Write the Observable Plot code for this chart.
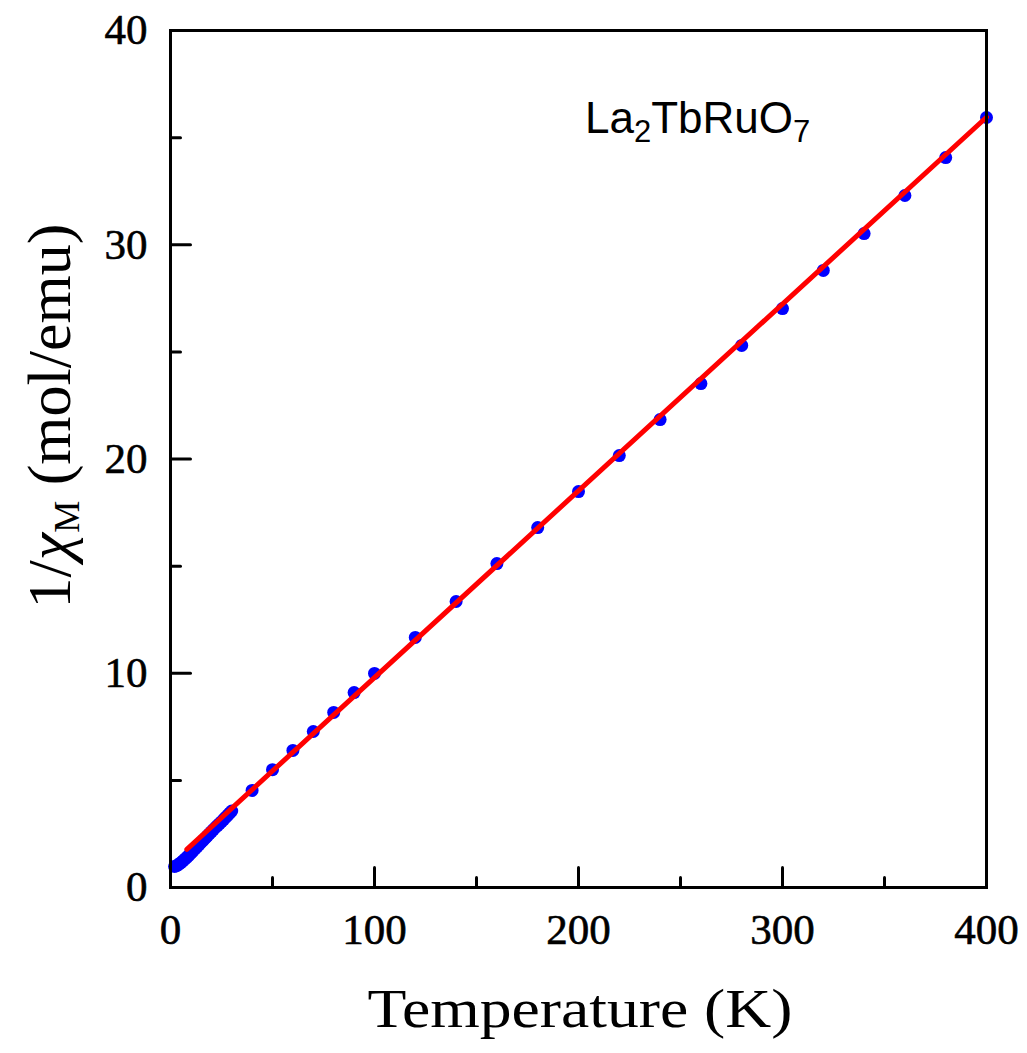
<!DOCTYPE html>
<html><head><meta charset="utf-8">
<script src="https://cdn.jsdelivr.net/npm/d3@7"></script>
<script src="https://cdn.jsdelivr.net/npm/@observablehq/plot@0.6"></script>
<style>body{margin:0;background:#fff}</style>
</head><body><div id="chart"></div>
<script>
// Measured data: temperature (K) and inverse molar susceptibility (mol/emu)
const temperature = [2,3,4,5,6,7,8,9,10,11,12,13,14,15,16,17,18,19,20,21,22,23,24,25,26,27,28,29,30,
  40,50,60,70,80,90,100,120,140,160,180,200,220,240,260,280,300,320,340,360,380,400];
const invChi = [0.98,1.02,1.08,1.15,1.23,1.32,1.41,1.50,1.60,1.70,1.80,1.90,2.00,2.10,2.20,2.30,2.40,2.50,2.60,2.70,2.80,2.89,2.98,3.07,3.17,3.27,3.37,3.47,3.57,
  4.53,5.50,6.40,7.28,8.17,9.10,9.99,11.67,13.35,15.12,16.80,18.48,20.16,21.84,23.52,25.30,27.02,28.80,30.52,32.30,34.07,35.94];
// Curie-Weiss fit line end points
const fitT = [8, 400];
const fitInvChi = [1.78, 35.95];
// Ticks
const xMajor = [0,100,200,300,400];
const xMinor = [50,150,250,350];
const yMajor = [0,10,20,30,40];
const yMinor = [5,15,25,35];

const points = temperature.map((t,i)=>({t, v: invChi[i]}));
const fit = fitT.map((t,i)=>({t, v: fitInvChi[i]}));

// straight tick shape for vector marks (inward ticks)
const tickShape = {draw(context, l) { context.moveTo(0, 0); context.lineTo(0, -l); }};

const plot = Plot.plot({
  width: 1027, height: 1053,
  marginLeft: 170, marginRight: 41, marginTop: 30, marginBottom: 166,
  x: {domain: [0,400], label: null},
  y: {domain: [0,40], label: null},
  style: {fontFamily: "Liberation Serif", fontSize: "43px", color: "#000", background: "#fff", overflow: "visible"},
  marks: [
    Plot.dot(points, {x: "t", y: "v", r: 6.5, fill: "#0000ff", stroke: "none"}),
    Plot.line(fit, {x: "t", y: "v", stroke: "#ff0000", strokeWidth: 5}),
    Plot.axisX({ticks: xMajor, tickSize: 0, tickPadding: 26, fontSize: 43, label: null, tickFormat: d => String(d)}),
    Plot.axisY({ticks: yMajor, tickSize: 0, tickPadding: 23, fontSize: 43, label: null, tickFormat: d => String(d)}),
    Plot.vector(xMajor, {x: d => d, y: 0, length: 20, rotate: 0, anchor: "start", shape: tickShape, stroke: "#000", strokeWidth: 3}),
    Plot.vector(xMinor, {x: d => d, y: 0, length: 10, rotate: 0, anchor: "start", shape: tickShape, stroke: "#000", strokeWidth: 3}),
    Plot.vector(yMajor, {x: 0, y: d => d, length: 20, rotate: 90, anchor: "start", shape: tickShape, stroke: "#000", strokeWidth: 3}),
    Plot.vector(yMinor, {x: 0, y: d => d, length: 10, rotate: 90, anchor: "start", shape: tickShape, stroke: "#000", strokeWidth: 3}),
    Plot.frame({stroke: "#000", strokeWidth: 3})
  ]
});
document.getElementById("chart").appendChild(plot);

const svg = d3.select(plot);
// slightly heavier tick labels
svg.selectAll("g[aria-label$='tick label']").attr("stroke", "#000").attr("stroke-width", 0.6);
// x-axis title
svg.append("text")
  .attr("x", 580).attr("y", 1027)
  .attr("text-anchor", "middle")
  .attr("font-family", "Liberation Serif").attr("font-size", 54).attr("fill", "#000")
  .attr("textLength", 425).attr("lengthAdjust", "spacingAndGlyphs")
  .text("Temperature (K)");
// y-axis title
const yl = svg.append("text")
  .attr("transform", "translate(70,416) rotate(-90)")
  .attr("text-anchor", "middle")
  .attr("font-family", "Liberation Serif").attr("font-size", 62).attr("fill", "#000");
yl.append("tspan").text("1/");
yl.append("tspan").attr("font-style", "italic").text("χ");
yl.append("tspan").attr("font-size", 36).attr("dy", 9).text("M");
yl.append("tspan").attr("dy", -9).text(" (mol/emu)");
// compound label
const cl = svg.append("text")
  .attr("x", 585).attr("y", 133)
  .attr("text-anchor", "start")
  .attr("font-family", "Liberation Sans").attr("font-size", 44).attr("fill", "#000");
cl.append("tspan").text("La");
cl.append("tspan").attr("font-size", 31).attr("dy", 9).text("2");
cl.append("tspan").attr("dy", -9).text("TbRuO");
cl.append("tspan").attr("font-size", 31).attr("dy", 9).text("7");
</script>
</body></html>
